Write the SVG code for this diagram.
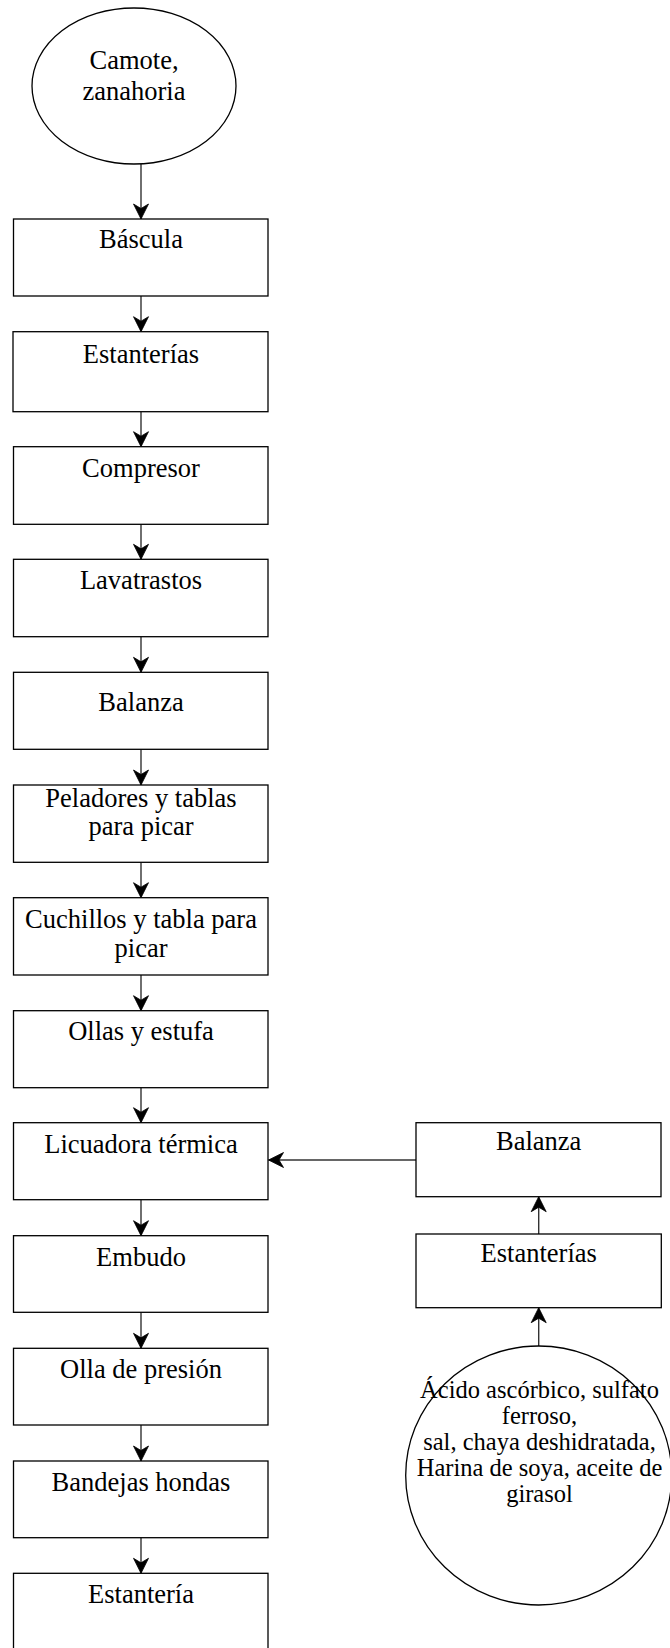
<svg xmlns="http://www.w3.org/2000/svg" width="670" height="1648" viewBox="0 0 670 1648">
<style>
.n{fill:#fff;stroke:#000;stroke-width:1.3}
.t{font-family:"Liberation Serif","Times New Roman",serif;font-size:26.5px;fill:#000;text-anchor:middle}
.s{font-family:"Liberation Serif","Times New Roman",serif;font-size:24.5px;fill:#000;text-anchor:middle}
.c{stroke:#333;stroke-width:1.4;fill:none;marker-end:url(#ah)}
</style>
<defs>
<marker id="ah" markerUnits="userSpaceOnUse" markerWidth="18" markerHeight="18" viewBox="-16 -9 18 18" refX="0" refY="0" orient="auto">
<path d="M0,0 L-15,-7.5 L-10.5,0 L-15,7.5 Z" fill="#000" stroke="#000" stroke-width="0.8" stroke-linejoin="miter"/>
</marker>
</defs>
<rect width="670" height="1648" fill="#fff"/>
<g id="connectors">
<path class="c" d="M141,164 V219"/>
<path class="c" d="M141,296 V331.7"/>
<path class="c" d="M141,411.7 V446.7"/>
<path class="c" d="M141,524.3 V559.3"/>
<path class="c" d="M141,636.7 V672.3"/>
<path class="c" d="M141,749.3 V785"/>
<path class="c" d="M141,862.3 V897.7"/>
<path class="c" d="M141,975 V1010.7"/>
<path class="c" d="M141,1087.7 V1122.7"/>
<path class="c" d="M141,1199.7 V1235.7"/>
<path class="c" d="M141,1312.3 V1348.3"/>
<path class="c" d="M141,1425 V1461"/>
<path class="c" d="M141,1537.7 V1573.3"/>
<path class="c" d="M416,1160 H268.5"/>
<path class="c" d="M538.7,1234 V1196.7"/>
<path class="c" d="M538.7,1346 V1307.7"/>
</g>
<g id="n0"><ellipse class="n" cx="134" cy="86" rx="102" ry="78"/><text class="t" x="134" y="69">Camote,</text><text class="t" x="134" y="100">zanahoria</text></g>
<g id="n1"><rect class="n" x="13.5" y="219" width="254.5" height="77"/><text class="t" x="141" y="248">Báscula</text></g>
<g id="n2"><rect class="n" x="13" y="331.7" width="255" height="80"/><text class="t" x="141" y="362.7">Estanterías</text></g>
<g id="n3"><rect class="n" x="13.5" y="446.7" width="254.5" height="77.6"/><text class="t" x="141" y="476.7">Compresor</text></g>
<g id="n4"><rect class="n" x="13.5" y="559.3" width="254.5" height="77.4"/><text class="t" x="141" y="589">Lavatrastos</text></g>
<g id="n5"><rect class="n" x="13.5" y="672.3" width="254.5" height="77"/><text class="t" x="141" y="711">Balanza</text></g>
<g id="n6"><rect class="n" x="13.5" y="785" width="254.5" height="77.3"/><text class="t" x="141" y="806.7">Peladores y tablas</text><text class="t" x="141" y="835">para picar</text></g>
<g id="n7"><rect class="n" x="13.5" y="897.7" width="254.5" height="77.3"/><text class="t" x="141" y="927.7">Cuchillos y tabla para</text><text class="t" x="141" y="956.7">picar</text></g>
<g id="n8"><rect class="n" x="13.5" y="1010.7" width="254.5" height="77"/><text class="t" x="141" y="1040">Ollas y estufa</text></g>
<g id="n9"><rect class="n" x="13.5" y="1122.7" width="254.5" height="77"/><text class="t" x="141" y="1153.3">Licuadora térmica</text></g>
<g id="n10"><rect class="n" x="13.5" y="1235.7" width="254.5" height="76.6"/><text class="t" x="141" y="1265.7">Embudo</text></g>
<g id="n11"><rect class="n" x="13.5" y="1348.3" width="254.5" height="76.7"/><text class="t" x="141" y="1378.3">Olla de presión</text></g>
<g id="n12"><rect class="n" x="13.5" y="1461" width="254.5" height="76.7"/><text class="t" x="141" y="1491">Bandejas hondas</text></g>
<g id="n13"><rect class="n" x="13.5" y="1573.3" width="254.5" height="78"/><text class="t" x="141" y="1603">Estantería</text></g>
<g id="n14"><rect class="n" x="416" y="1122.7" width="245" height="74"/><text class="t" x="538.7" y="1150">Balanza</text></g>
<g id="n15"><rect class="n" x="416" y="1234" width="245.3" height="73.7"/><text class="t" x="538.7" y="1261.7">Estanterías</text></g>
<g id="n16"><ellipse class="n" cx="538.7" cy="1475.5" rx="133" ry="129.5"/><text class="s" x="539.5" y="1398">Ácido ascórbico, sulfato</text><text class="s" x="539.5" y="1424">ferroso,</text><text class="s" x="539.5" y="1450">sal, chaya deshidratada,</text><text class="s" x="539.5" y="1475.7">Harina de soya, aceite de</text><text class="s" x="539.5" y="1501.7">girasol</text></g>
</svg>
